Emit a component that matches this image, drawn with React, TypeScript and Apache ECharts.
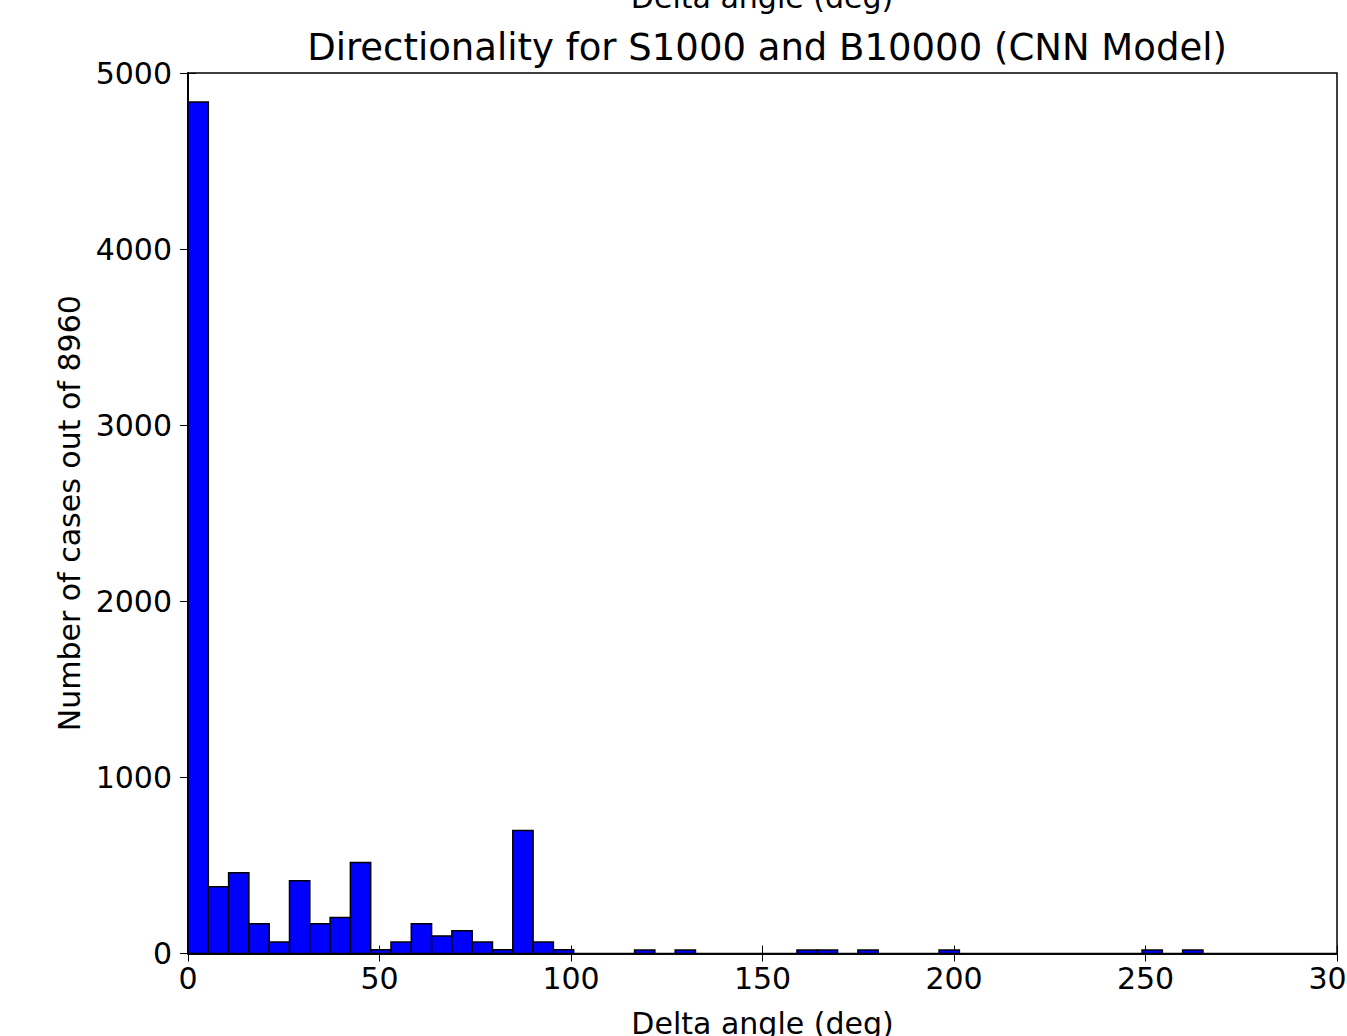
import React, { useEffect, useRef } from "react";
import * as echarts from "echarts";

const titleText = "Directionality for S1000 and B10000 (CNN Model)";
const xAxisName = "Delta angle (deg)";
const yAxisName = "Number of cases out of 8960";
const binWidth = 5.3;
const binCounts = [
  4835, 379, 458, 169, 65, 413, 169, 205, 517, 22,
  65, 169, 100, 129, 65, 22, 699, 65, 22, 0,
  0, 0, 20, 0, 20, 0, 0, 0, 0, 0,
  20, 20, 0, 20, 0, 0, 0, 20, 0, 0,
  0, 0, 0, 0, 0, 0, 0, 20, 0, 20,
];
const xTicks = [0, 50, 100, 150, 200, 250, 300];
const yTicks = [0, 1000, 2000, 3000, 4000, 5000];

const FONT = "DejaVu Sans";

export default function App() {
  const ref = useRef<HTMLDivElement>(null);
  useEffect(() => {
    document.body.style.margin = "0";
    const chart = echarts.init(ref.current!, null, { renderer: "svg" });
    const data = binCounts.map((c, i) => [i * binWidth, (i + 1) * binWidth, c]);
    const axisCommon = {
      axisLine: { show: true, lineStyle: { color: "#000", width: 1.5 } },
      axisTick: { show: true, inside: true, length: 8, lineStyle: { color: "#000", width: 1 } },
      splitLine: { show: false },
    };
    const plain = (v: number) => String(v);
    chart.setOption({
      animation: false,
      backgroundColor: "#fff",
      title: {
        text: titleText,
        left: 762,
        top: 42,
        textAlign: "center",
        textVerticalAlign: "middle",
        textStyle: { fontFamily: FONT, fontSize: 37, fontWeight: "normal", color: "#000" },
      },
      grid: {
        left: 188,
        top: 73,
        right: 10,
        bottom: 82.5,
        containLabel: false,
        outerBoundsMode: "none",
        show: true,
        borderColor: "#000",
        borderWidth: 1.5,
        backgroundColor: "#fff",
      },
      xAxis: [
        {
          type: "value",
          min: xTicks[0],
          max: xTicks[xTicks.length - 1],
          interval: 50,
          position: "bottom",
          name: xAxisName,
          nameLocation: "middle",
          nameGap: 55,
          nameTextStyle: { fontFamily: FONT, fontSize: 30, color: "#000" },
          axisLabel: { fontFamily: FONT, fontSize: 30, color: "#000", margin: 10, showMaxLabel: true, formatter: plain },
          ...axisCommon,
        },
        {
          type: "value",
          min: xTicks[0],
          max: xTicks[xTicks.length - 1],
          interval: 50,
          position: "top",
          axisLabel: { show: false },
          ...axisCommon,
        },
      ],
      yAxis: [
        {
          type: "value",
          min: yTicks[0],
          max: yTicks[yTicks.length - 1],
          interval: 1000,
          position: "left",
          name: yAxisName,
          nameLocation: "middle",
          nameGap: 104,
          nameTextStyle: { fontFamily: FONT, fontSize: 30, color: "#000" },
          axisLabel: { fontFamily: FONT, fontSize: 30, color: "#000", margin: 16, formatter: plain },
          ...axisCommon,
        },
        {
          type: "value",
          min: yTicks[0],
          max: yTicks[yTicks.length - 1],
          interval: 1000,
          position: "right",
          axisLabel: { show: false },
          ...axisCommon,
        },
      ],
      graphic: [
        {
          type: "text",
          x: 762,
          y: -3,
          style: {
            text: xAxisName,
            fontFamily: FONT,
            fontSize: 30,
            fill: "#000",
            align: "center",
            verticalAlign: "middle",
          },
        },
      ],
      series: [
        {
          type: "custom",
          xAxisIndex: 0,
          yAxisIndex: 0,
          data,
          encode: { x: [0, 1], y: 2 },
          renderItem: (params: any, api: any) => {
            const x0 = api.value(0);
            const x1 = api.value(1);
            const v = api.value(2);
            if (!v) return null;
            const p0 = api.coord([x0, 0]);
            const p1 = api.coord([x1, v]);
            return {
              type: "rect",
              shape: { x: p0[0], y: p1[1], width: p1[0] - p0[0], height: p0[1] - p1[1] },
              style: { fill: "#0000ff", stroke: "#000", lineWidth: 1.5 },
            };
          },
        },
      ],
    });
    return () => chart.dispose();
  }, []);
  return <div ref={ref} style={{ width: 1347, height: 1036 }} />;
}
